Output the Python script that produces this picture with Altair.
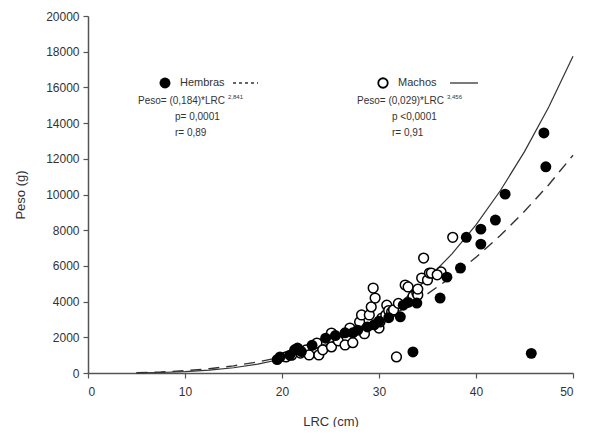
import altair as alt
import pandas as pd

# Hembras (filled circles)
hem_lrc = [19.5, 19.8, 20.8, 21.3, 21.6, 22.0, 23.1, 24.5, 25.5, 26.5, 27.3, 27.8, 28.8, 29.5,
           30.0, 31.0, 32.2, 32.5, 33.0, 33.9, 33.5, 36.3, 37.0, 38.4, 39.0, 40.5, 40.5, 42.0,
           43.0, 45.7, 47.0, 47.2]
hem_peso = [750, 900, 1000, 1300, 1400, 1200, 1550, 1950, 2100, 2250, 2250, 2400, 2580, 2700,
            2900, 3100, 3150, 3800, 3950, 3920, 1180, 4200, 5370, 5880, 7600, 8060, 7220, 8570,
            10020, 1100, 13450, 11550]

# Machos (open circles)
mac_lrc = [20.4, 21.0, 21.9, 22.5, 22.8, 23.6, 23.8, 24.2, 25.1, 25.1, 25.8, 26.5, 27.0, 27.3,
           28.0, 28.2, 28.5, 29.0, 29.2, 29.4, 29.6, 30.0, 30.1, 30.3, 30.7, 30.8, 31.0, 31.3,
           31.5, 31.8, 32.0, 32.7, 33.0, 33.5, 33.9, 34.0, 34.4, 34.6, 35.0, 35.2, 35.4, 36.4,
           37.6, 36.0, 34.0]
mac_peso = [900, 1000, 1120, 1300, 1010, 1680, 1010, 1300, 2240, 1460, 1800, 1570, 2520, 1700,
            2860, 3250, 2200, 3250, 3700, 4760, 4200, 2520, 2860, 3080, 3250, 3800, 3500, 3420,
            3530, 900, 3900, 4930, 4820, 4300, 4480, 4370, 5320, 6440, 5210, 5600, 5600, 5660,
            7600, 5500, 4700]

# Fitted curves
curve_lrc = [5, 7.5, 10, 12.5, 15, 17.5, 20, 22.5, 25, 27.5, 30, 32.5, 35, 37.5, 40, 42.5, 45, 47.5, 50]
curve_solid = [7, 28, 74, 158, 294, 497, 783, 1170, 1675, 2316, 3115, 4090, 5264, 6660, 8300,
               10210, 12400, 14900, 17750]
curve_dashed = [18, 56, 127, 239, 401, 620, 906, 1265, 1706, 2236, 2864, 3591, 4431, 5390, 6480,
                7700, 9060, 10550, 12200]

FONT = "Liberation Sans"
TXT = "#333333"

hem = pd.DataFrame({"LRC": hem_lrc, "Peso": hem_peso})
mac = pd.DataFrame({"LRC": mac_lrc, "Peso": mac_peso})
cs = pd.DataFrame({"LRC": curve_lrc, "Peso": curve_solid})
cd = pd.DataFrame({"LRC": curve_lrc, "Peso": curve_dashed})

xs = alt.X("LRC:Q", scale=alt.Scale(domain=[0, 50], nice=False),
           axis=alt.Axis(values=[0, 10, 20, 30, 40, 50], title="LRC (cm)", grid=False,
                         tickSize=5, labelPadding=8, titlePadding=18, format="d"))
ys = alt.Y("Peso:Q", scale=alt.Scale(domain=[0, 20000], nice=False),
           axis=alt.Axis(values=list(range(0, 20001, 2000)), title="Peso (g)", grid=False,
                         tickSize=5, labelPadding=4, titlePadding=18, format="d"))

line_solid = alt.Chart(cs).mark_line(color="#333333", strokeWidth=1.2).encode(x=xs, y=ys)
line_dash = alt.Chart(cd).mark_line(color="#333333", strokeWidth=1.4, strokeDash=[11, 7]).encode(x=xs, y=ys)
pts_m = alt.Chart(mac).mark_point(shape="circle", filled=False, fill="white", fillOpacity=1,
                                   color="black", stroke="black", strokeWidth=1.5, size=95,
                                   opacity=1).encode(x=xs, y=ys)
pts_h = alt.Chart(hem).mark_point(shape="circle", filled=True, color="black", size=120,
                                   opacity=1).encode(x=xs, y=ys)

def txt(s, x, y, align="left", size=10):
    return alt.Chart(pd.DataFrame({"t": [s]})).mark_text(
        align=align, baseline="middle", font=FONT, fontSize=size, color=TXT
    ).encode(text="t:N", x=alt.value(x), y=alt.value(y))

def marker(x, y, filled):
    if filled:
        m = alt.Chart(pd.DataFrame({"a": [0]})).mark_point(shape="circle", filled=True, color="black", size=120, opacity=1)
    else:
        m = alt.Chart(pd.DataFrame({"a": [0]})).mark_point(shape="circle", filled=False, color="black", fill="white", strokeWidth=1.8, size=90, opacity=1)
    return m.encode(x=alt.value(x), y=alt.value(y))

def seg(x1, x2, y, dash):
    kw = dict(color="#333333", strokeWidth=1.3)
    if dash:
        kw["strokeDash"] = dash
    return alt.Chart(pd.DataFrame({"a": [0]})).mark_rule(**kw).encode(
        x=alt.value(x1), x2=alt.value(x2), y=alt.value(y))

ann = [
    marker(77, 67, True), txt("Hembras", 92, 67, size=11), seg(145, 170, 67, [3, 3]),
    txt("Peso= (0,184)*LRC", 137, 85, align="right"), txt("2,841", 140, 81, size=6),
    txt("p= 0,0001", 87, 101), txt("r= 0,89", 87, 117),
    marker(295, 67, False), txt("Machos", 310, 67, size=11), seg(362, 390, 67, None),
    txt("Peso= (0,029)*LRC", 356, 85, align="right"), txt("3,456", 359, 81, size=6),
    txt("p <0,0001", 304, 101), txt("r= 0,91", 304, 117),
]

chart = alt.layer(line_solid, line_dash, pts_m, pts_h, *ann).properties(
    width=485, height=357,
    autosize=alt.AutoSizeParams(type="none"),
    padding={"left": 80, "top": 8, "right": 14, "bottom": 54},
).configure_view(stroke=None).configure_axis(
    domainColor="#555555", tickColor="#555555", domainWidth=1.5, tickWidth=1.2,
    labelFont=FONT, labelFontSize=12, labelColor=TXT,
    titleFont=FONT, titleFontSize=13, titleColor=TXT, titleFontWeight="normal",
)

chart.save("out.html", embed_options={"renderer": "svg", "actions": False})
